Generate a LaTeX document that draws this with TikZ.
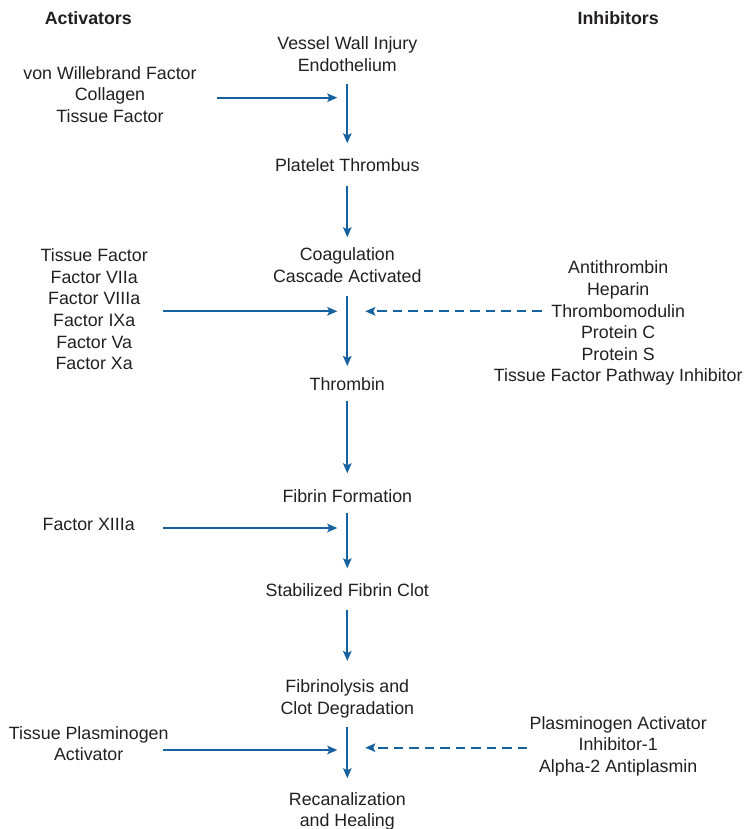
\documentclass[tikz,border=0pt]{standalone}
\usepackage{fontspec}
\setmainfont{Liberation Sans}
\usetikzlibrary{arrows.meta,calc}
\definecolor{flowblue}{RGB}{22,98,160}
\definecolor{inktext}{RGB}{35,31,32}
\begin{document}
\begin{tikzpicture}[x=1pt,y=-1pt,
  lbl/.style={font=\fontsize{17.8}{21.6}\selectfont, text=inktext, align=center, inner sep=0pt},
  heading/.style={lbl, font=\fontsize{17.8}{21.6}\selectfont\bfseries},
  flow/.style={draw=flowblue, line width=1.8pt, -{Stealth[length=10pt,width=8.5pt,inset=2pt]}},
  inhib/.style={flow, dash pattern=on 9.5pt off 6pt},
]
\useasboundingbox (0,0) rectangle (746,829);

% column headings
\node[heading] (hdrA) at (88.3,17.7) {Activators};
\node[heading] (hdrI) at (618.2,17.7) {Inhibitors};

% main pathway
\node[lbl] (vwi)  at (347.3,54.3)  {Vessel Wall Injury\\Endothelium};
\node[lbl] (plt)  at (347.3,164.8) {Platelet Thrombus};
\node[lbl] (coag) at (347.3,265.2) {Coagulation\\Cascade Activated};
\node[lbl] (thr)  at (347.3,383.7) {Thrombin};
\node[lbl] (fib)  at (347.3,496.4) {Fibrin Formation};
\node[lbl] (stab) at (347.3,590.4) {Stabilized Fibrin Clot};
\node[lbl] (lys)  at (347.3,699.0) {Fibrinolysis and\\Clot Degradation};
\node[lbl] (rec)  at (347.3,811.3) {Recanalization\\and Healing};

% activators
\node[lbl] (act1) at (110.0,94.6)  {von Willebrand Factor\\Collagen\\Tissue Factor};
\node[lbl] (act2) at (94.2,309.4)  {Tissue Factor\\Factor VIIa\\Factor VIIIa\\Factor IXa\\Factor Va\\Factor Xa};
\node[lbl] (act3) at (88.7,524.4)  {Factor XIIIa};
\node[lbl] (act4) at (88.7,743.8)  {Tissue Plasminogen\\Activator};

% inhibitors
\node[lbl] (inh1) at (618.2,323.2) {Antithrombin\\Heparin\\Thrombomodulin\\Protein C\\Protein S\\Tissue Factor Pathway Inhibitor};
\node[lbl] (inh2) at (618.2,746.1) {Plasminogen Activator\\Inhibitor-1\\Alpha-2 Antiplasmin};

% points where side arrows meet the pathway
\coordinate (j1) at (347.3,97.7);
\coordinate (j2) at (347.3,311.3);
\coordinate (j3) at (347.3,528.0);
\coordinate (j4) at (347.3,750.0);
\coordinate (k4) at (347.3,747.7);

% pathway arrows
\draw[flow, shorten <=29.7pt, shorten >=21.5pt] (vwi.center)  -- (plt.center);
\draw[flow, shorten <=21.2pt, shorten >=27.9pt] (plt.center)  -- (coag.center);
\draw[flow, shorten <=30.8pt, shorten >=17.7pt] (coag.center) -- (thr.center);
\draw[flow, shorten <=17.0pt, shorten >=23.1pt] (thr.center)  -- (fib.center);
\draw[flow, shorten <=16.3pt, shorten >=22.1pt] (fib.center)  -- (stab.center);
\draw[flow, shorten <=19.6pt, shorten >=38.0pt] (stab.center) -- (lys.center);
\draw[flow, shorten <=27.7pt, shorten >=33.0pt] (lys.center)  -- (rec.center);

% activator arrows
\draw[flow, shorten <=106.7pt, shorten >=10pt] (act1.center |- j1) -- (j1);
\draw[flow, shorten <=69.1pt,  shorten >=10pt] (act2.center |- j2) -- (j2);
\draw[flow, shorten <=74.6pt,  shorten >=10pt] (act3.center |- j3) -- (j3);
\draw[flow, shorten <=74.6pt,  shorten >=10pt] (act4.center |- j4) -- (j4);

% inhibitor arrows
\draw[inhib, shorten <=76.7pt, shorten >=18pt] (inh1.center |- j2) -- (j2);
\draw[inhib, shorten <=91.2pt, shorten >=18pt] (inh2.center |- k4) -- (k4);
\end{tikzpicture}
\end{document}
